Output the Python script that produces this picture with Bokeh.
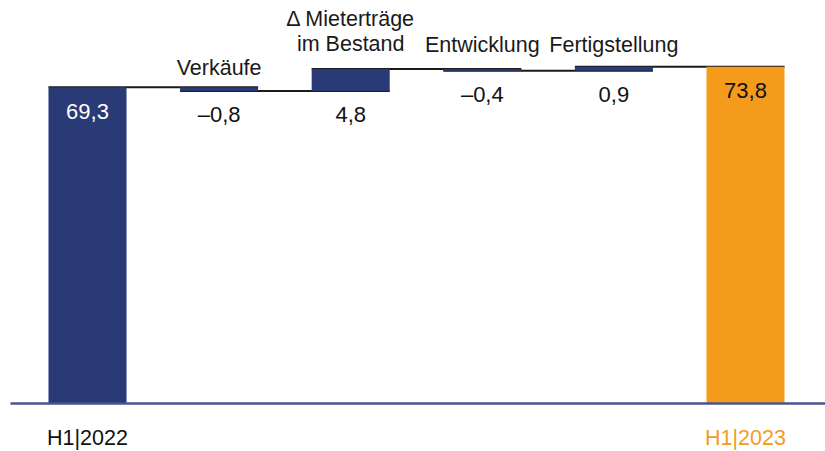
from bokeh.plotting import figure
from bokeh.models import Range1d, ColumnDataSource
from bokeh.core.properties import value
from bokeh.embed import file_html
from bokeh.resources import INLINE

# ---- data ----
categories = ["H1|2022", "Verkäufe", "Δ Mieterträge\nim Bestand", "Entwicklung", "Fertigstellung", "H1|2023"]
values = [69.3, -0.8, 4.8, -0.4, 0.9, 73.8]
kinds = ["total", "delta", "delta", "delta", "delta", "total"]

# ---- style ----
NAVY = "#293a76"
ORANGE = "#f59b1c"
FONT = "Liberation Sans"
BAR_W = 0.593
label_offsets = [0, 19, 25, 24, 22, 0]   # px above bar top for the step labels
X0, X1 = -0.6611, 5.6079
Y0, Y1 = -10.52, 88.32

# ---- waterfall geometry ----
starts, ends = [], []
run = 0.0
for v, k in zip(values, kinds):
    if k == "total":
        starts.append(0.0); ends.append(v); run = v
    else:
        starts.append(run); run += v; ends.append(run)

xs = list(range(len(values)))
bottoms = [min(s, e) for s, e in zip(starts, ends)]
tops = [max(s, e) for s, e in zip(starts, ends)]
colors = [ORANGE if i == len(values) - 1 else NAVY for i in xs]

def fmt(v):
    s = f"{abs(v):.1f}".replace(".", ",")
    return ("–" + s) if v < 0 else s

p = figure(width=825, height=451, output_backend="svg", toolbar_location=None,
           x_axis_location=None, y_axis_location=None, min_border=0,
           min_border_left=0, min_border_right=0, min_border_top=0, min_border_bottom=0)
p.x_range = Range1d(X0, X1)
p.y_range = Range1d(Y0, Y1)
p.grid.visible = False
p.outline_line_color = None
p.background_fill_color = "white"
p.border_fill_color = "white"

# connectors
cx0, cx1, cy = [], [], []
for i in range(len(values) - 1):
    cx0.append(i - BAR_W / 2)
    cx1.append(i + 1 + BAR_W / 2)
    cy.append(ends[i])
p.segment(x0=cx0, y0=cy, x1=cx1, y1=cy, line_color="#1a1a1a", line_width=2)

# bars
p.vbar(x=xs, bottom=bottoms, top=tops, width=BAR_W, fill_color=colors, line_color=None)

# baseline axis line
p.segment(x0=[X0 + 10 / 131.6], y0=[0], x1=[X1], y1=[0], line_color="#46548f", line_width=2.5)

# value labels
vl_y = [e if k == "total" else b for e, b, k in zip(ends, bottoms, kinds)]
vl_col = ["white" if i == 0 else "#111111" for i in xs]
src = ColumnDataSource(dict(x=xs, y=vl_y, t=[fmt(v) for v in values], c=vl_col))
p.text(x="x", y="y", text="t", text_color="c", source=src, text_align="center",
       text_baseline="middle", y_offset=24, text_font=value(FONT), text_font_size="22px")

# step labels above bars
for i in xs:
    if kinds[i] == "delta":
        lines = categories[i].split("\n")
        n = len(lines)
        for j, ln in enumerate(lines):
            p.text(x=[i], y=[tops[i]], text=[ln], text_align="center", text_baseline="alphabetic",
                   y_offset=-label_offsets[i] - (n - 1 - j) * 25,
                   text_color="#1a1a1a", text_font=value(FONT), text_font_size="21.5px")

# total labels below axis
for i in xs:
    if kinds[i] == "total":
        col = ORANGE if i == len(values) - 1 else "#111111"
        p.text(x=[i], y=[0], text=[categories[i]], text_align="center", text_baseline="middle",
               y_offset=35, text_color=col, text_font=value(FONT), text_font_size="21.5px")

open("out.html", "w").write(file_html(p, INLINE))
